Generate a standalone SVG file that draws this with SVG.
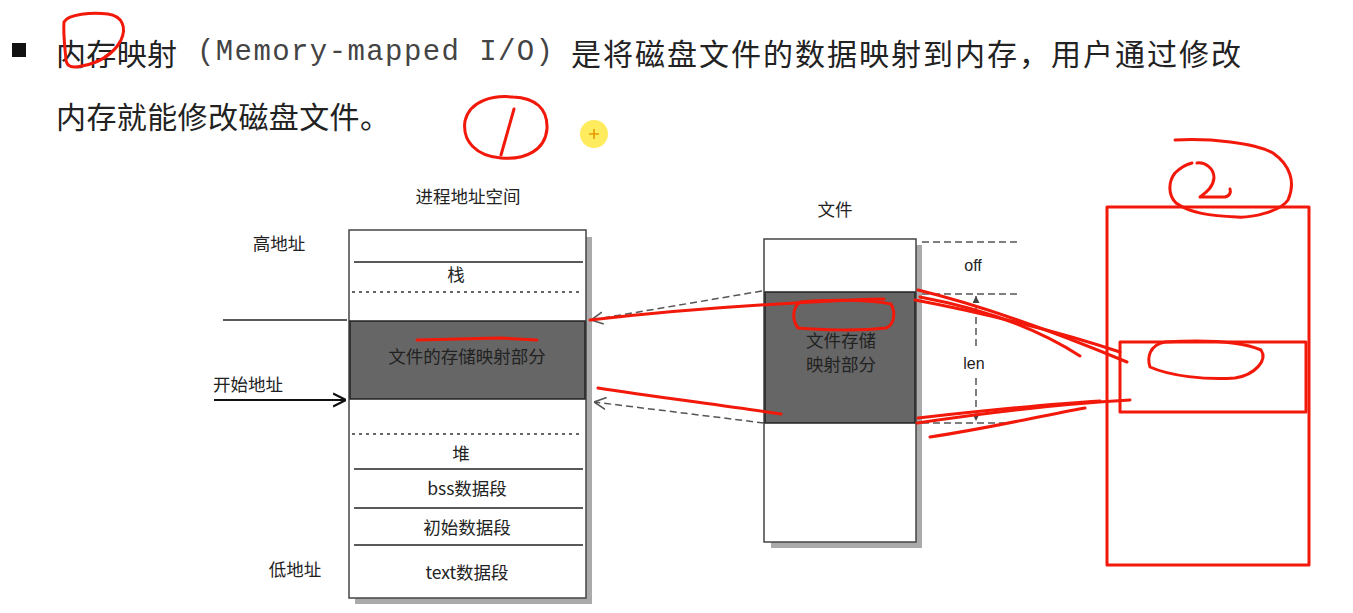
<svg xmlns="http://www.w3.org/2000/svg" width="1353" height="613" viewBox="0 0 1353 613">
  <style>
    .cjk { font-family: "Noto Sans CJK SC", "Liberation Sans", sans-serif; fill: #222; }
    .lbl { font-family: "Noto Sans CJK SC", "Liberation Sans", sans-serif; font-size: 17.5px; fill: #222; text-anchor: middle; dominant-baseline: central; }
    .lat { font-family: "Liberation Sans", "Noto Sans CJK SC", sans-serif; font-size: 16px; fill: #222; text-anchor: middle; dominant-baseline: central; }
    .box { fill: #fff; stroke: #444; stroke-width: 1.5; }
    .shadow { fill: #aaa; }
    .mapped { fill: #666; stroke: #222; stroke-width: 1.5; }
    .sep { stroke: #222; stroke-width: 1.3; }
    .dot { stroke: #333; stroke-width: 1.3; stroke-dasharray: 3 4; }
    .dash { stroke: #555; stroke-width: 1.5; stroke-dasharray: 7 4; fill: none; }
    .ink { fill: none; stroke: #f2180a; stroke-width: 3; stroke-linecap: round; stroke-linejoin: round; }
  </style>
  <defs>
    <marker id="chev" viewBox="0 0 10 10" refX="10" refY="5" markerWidth="12" markerHeight="14" markerUnits="userSpaceOnUse" orient="auto">
      <path d="M0,0 L10,5 L0,10" fill="none" stroke="#555" stroke-width="1.3"/>
    </marker>
    <marker id="chevDark" viewBox="0 0 10 10" refX="10" refY="5" markerWidth="13" markerHeight="16" markerUnits="userSpaceOnUse" orient="auto">
      <path d="M0,0 L10,5 L0,10" fill="none" stroke="#111" stroke-width="1.6"/>
    </marker>
    <marker id="tri" viewBox="0 0 10 10" refX="10" refY="5" markerWidth="9" markerHeight="7" markerUnits="userSpaceOnUse" orient="auto">
      <path d="M0,0 L10,5 L0,10 Z" fill="#444"/>
    </marker>
  </defs>

  <rect width="1353" height="613" fill="#fff"/>

  <!-- heading -->
  <g id="heading">
    <rect x="12" y="43" width="14" height="14" fill="#111"/>
    <text class="cjk" x="56" y="52" font-size="30" dominant-baseline="central" textLength="121">内存映射</text>
    <text x="197" y="52" font-family="Liberation Mono, monospace" font-size="29" fill="#444" dominant-baseline="central" textLength="356">(Memory-mapped I/O)</text>
    <text class="cjk" x="571" y="52" font-size="30" dominant-baseline="central" textLength="670">是将磁盘文件的数据映射到内存，用户通过修改</text>
    <text class="cjk" x="56" y="115" font-size="30" dominant-baseline="central" textLength="334">内存就能修改磁盘文件。</text>
  </g>

  <!-- process address space -->
  <g id="process">
    <text class="lbl" x="468" y="195">进程地址空间</text>
    <rect class="shadow" x="355" y="237" width="237" height="367"/>
    <rect class="box" x="349" y="230" width="237" height="368"/>
    <line class="sep" x1="354" y1="262" x2="583" y2="262"/>
    <text class="lbl" x="456" y="273">栈</text>
    <line class="dot" x1="352" y1="292" x2="583" y2="292"/>
    <rect class="mapped" x="350" y="321" width="235" height="78"/>
    <text class="lbl" x="467" y="355" fill="#111">文件的存储映射部分</text>
    <line class="dot" x1="352" y1="434" x2="583" y2="434"/>
    <text class="lbl" x="461" y="452">堆</text>
    <line class="sep" x1="354" y1="469" x2="583" y2="469"/>
    <text class="lbl" x="467" y="487">bss数据段</text>
    <line class="sep" x1="354" y1="508" x2="583" y2="508"/>
    <text class="lbl" x="467" y="526">初始数据段</text>
    <line class="sep" x1="354" y1="545" x2="583" y2="545"/>
    <text class="lbl" x="467" y="571">text数据段</text>
  </g>

  <!-- address labels -->
  <g id="addresses">
    <text class="lbl" x="279" y="242">高地址</text>
    <line x1="223" y1="320" x2="347" y2="320" stroke="#222" stroke-width="1.3"/>
    <text class="lbl" x="248" y="383">开始地址</text>
    <text class="lbl" x="295" y="568">低地址</text>
  </g>

  <!-- file -->
  <g id="file">
    <text class="lbl" x="835" y="208">文件</text>
    <rect class="shadow" x="771" y="245" width="151" height="303"/>
    <rect class="box" x="764" y="239" width="152" height="303"/>
    <rect class="mapped" x="765" y="292" width="150" height="131"/>
    <text class="lbl" x="841" y="339" font-size="16" textLength="70" fill="#111">文件存储</text>
    <text class="lbl" x="841" y="363" font-size="16" textLength="70" fill="#111">映射部分</text>
  </g>

  <!-- off / len marks -->
  <g id="extent">
    <text class="lat" x="973" y="265">off</text>
    <text class="lat" x="974" y="363">len</text>
  </g>

  <g id="connectors">
    <line x1="214" y1="400" x2="346" y2="400" stroke="#111" stroke-width="2" marker-end="url(#chevDark)"/>
    <line class="dash" x1="762" y1="291" x2="591" y2="320" marker-end="url(#chev)"/>
    <line class="dash" x1="764" y1="423" x2="594" y2="402" marker-end="url(#chev)"/>
    <line class="dash" x1="922" y1="242" x2="1020" y2="242"/>
    <line class="dash" x1="922" y1="294" x2="1017" y2="294"/>
    <line class="dash" x1="922" y1="423" x2="1010" y2="423"/>
    <line class="dash" x1="976" y1="346" x2="976" y2="296" marker-end="url(#tri)"/>
    <line class="dash" x1="976" y1="378" x2="976" y2="421" marker-end="url(#tri)"/>
  </g>

  <!-- pen annotations -->
  <g id="annotations">
    <path class="ink" d="M64,22 C68,14 92,12 108,14 C122,16 127,27 121,40 C114,54 99,63 82,66 C72,68 67,67 66,60 C65,48 63,34 64,22"/>
    <path class="ink" d="M513,97 C494,95 470,100 465,121 C462,141 476,156 501,158 C526,160 545,150 547,129 C548,108 535,98 513,97 Z"/>
    <path class="ink" d="M514,109 L501,155"/>
    <circle cx="594" cy="134" r="14" fill="#ffe94d" opacity="0.9"/>
    <path d="M589,134 H599 M594,129 V139" stroke="#e89a00" stroke-width="1.6"/>
    <path class="ink" d="M417,340 L500,338 L537,340"/>
    <path class="ink" d="M590,320 C650,313 720,307 795,303 C830,301 870,299 884,299"/>
    <path class="ink" d="M800,302 C830,299 872,300 891,304 C896,313 894,325 886,328 C860,331 820,330 798,328 C792,320 792,308 800,302"/>
    <path class="ink" d="M598,388 C650,396 720,405 781,414"/>
    <path class="ink" d="M918,290 C980,305 1050,330 1127,362"/>
    <path class="ink" d="M920,297 C990,310 1040,330 1080,356"/>
    <path class="ink" d="M915,300 C980,312 1060,332 1120,352"/>
    <path class="ink" d="M917,423 C990,412 1060,404 1130,400"/>
    <path class="ink" d="M918,418 C990,410 1050,404 1100,401"/>
    <path class="ink" d="M930,437 C990,428 1040,416 1085,408"/>
    <rect class="ink" x="1107" y="207" width="202" height="358"/>
    <rect class="ink" x="1120" y="342" width="186" height="70"/>
    <path class="ink" d="M1165,342 C1200,340 1240,341 1261,350 C1268,360 1255,375 1235,378 C1205,380 1170,376 1150,367 C1147,358 1149,345 1165,342"/>
    <path class="ink" d="M1175,140 C1210,138 1255,143 1273,153 C1290,165 1296,182 1288,200 C1280,212 1250,218 1237,217 C1210,216 1190,213 1176,203 C1168,195 1168,182 1175,173 C1182,166 1188,164 1192,163"/>
    <path class="ink" d="M1197,163 C1205,162 1214,168 1214,178 C1213,188 1205,193 1200,197 L1225,197 C1230,196 1231,192 1230,189"/>
  </g>
</svg>
